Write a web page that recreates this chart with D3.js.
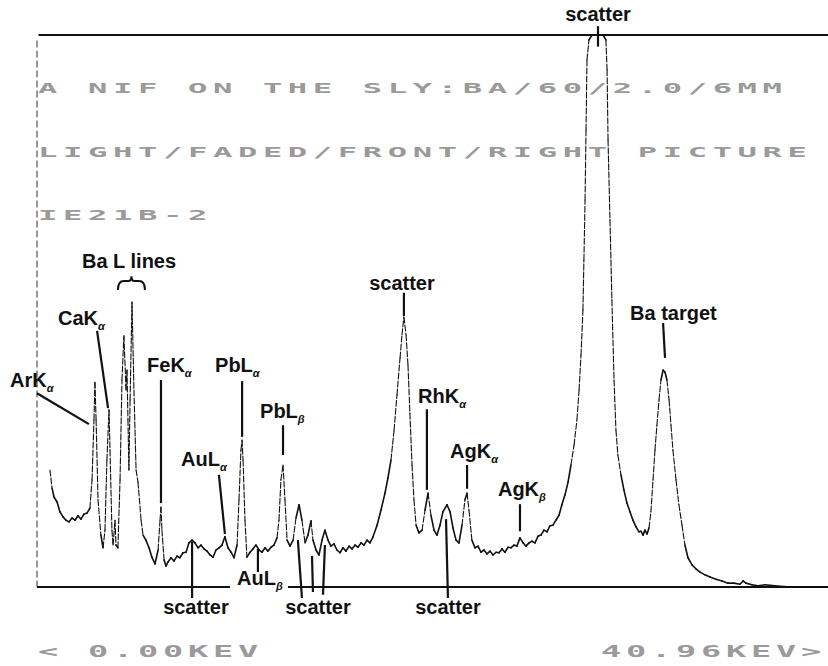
<!DOCTYPE html>
<html>
<head>
<meta charset="utf-8">
<style>
  body { margin: 0; background: #fff; }
  .note { font-family: "Liberation Sans", Arial, sans-serif; font-weight: bold; font-size: 20px; fill: #111; }
  .sub { font-style: italic; font-size: 11px; }
  .dots { font-family: "DejaVu Sans Mono", monospace; font-weight: bold; fill: #9a9a9a; }
</style>
</head>
<body>
<svg id="chart" width="828" height="666"></svg>
<script src="https://cdn.jsdelivr.net/npm/d3@7"></script>
<script>
// spectrum: energy in keV, counts in % of full scale
const energy = [0.67,0.78,0.88,1.04,1.19,1.35,1.50,1.66,1.81,1.97,2.12,2.28,2.43,2.59,2.74,2.85,2.95,3.00,3.06,3.16,
  3.31,3.42,3.52,3.62,3.73,3.78,3.88,3.94,4.04,4.09,4.19,4.30,4.40,4.50,4.61,4.66,4.71,4.76,4.82,4.92,
  5.02,5.13,5.23,5.39,5.49,5.64,5.80,5.95,6.11,6.27,6.37,6.42,6.47,6.58,6.68,6.78,6.94,7.09,7.25,7.40,
  7.56,7.72,7.87,8.03,8.18,8.34,8.49,8.65,8.80,8.96,9.11,9.27,9.42,9.58,9.73,9.89,10.05,10.20,10.36,10.46,
  10.56,10.62,10.67,10.77,10.87,11.03,11.18,11.34,11.50,11.65,11.81,11.96,12.12,12.27,12.43,12.53,12.63,12.74,12.84,12.95,
  13.10,13.26,13.41,13.57,13.72,13.88,14.03,14.19,14.29,14.45,14.60,14.76,14.91,15.07,15.22,15.38,15.53,15.69,15.84,16.00,
  16.16,16.31,16.47,16.62,16.78,16.93,17.09,17.24,17.40,17.61,17.81,18.02,18.17,18.33,18.49,18.64,18.80,18.90,19.00,19.11,
  19.21,19.31,19.42,19.52,19.63,19.78,19.94,20.09,20.25,20.40,20.56,20.71,20.87,21.02,21.23,21.39,21.54,21.70,21.85,22.01,
  22.16,22.27,22.37,22.52,22.68,22.84,22.99,23.15,23.30,23.46,23.61,23.77,23.92,24.08,24.23,24.39,24.54,24.70,24.85,25.01,
  25.17,25.32,25.48,25.63,25.79,25.94,26.10,26.25,26.41,26.56,26.72,26.87,27.03,27.18,27.34,27.50,27.65,27.81,27.96,28.07,
  28.17,28.27,28.32,28.38,28.43,28.48,28.58,28.74,29.31,29.46,29.52,29.57,29.67,29.77,29.88,29.98,30.08,30.24,30.39,30.55,
  30.71,30.86,31.02,31.17,31.28,31.38,31.48,31.59,31.69,31.79,31.90,32.00,32.10,32.21,32.31,32.42,32.52,32.62,32.73,32.83,
  32.93,33.09,33.24,33.40,33.55,33.71,33.92,34.12,34.33,34.59,34.85,35.16,35.47,35.78,36.09,36.40,36.56,36.71,37.02,37.33,
  37.70,38.21,38.99,40.03,40.96];
const counts = [21.2,17.9,16.3,15.4,13.6,12.7,12.1,11.8,12.5,12.1,12.9,12.3,13.2,13.4,14.3,19.4,30.3,37.1,30.3,15.8,
  9.4,7.1,10.3,23.0,32.1,24.8,10.3,7.6,12.1,7.6,7.1,19.4,37.5,45.5,35.7,39.3,30.3,21.2,33.9,51.6,
  35.7,21.2,19.0,12.1,9.4,8.5,7.1,5.4,4.2,6.7,12.1,14.5,10.3,4.9,3.8,4.5,5.3,4.7,5.6,5.3,
  6.2,6.3,8.0,8.5,8.0,7.1,7.6,6.9,6.5,5.8,5.4,6.7,7.1,7.6,9.1,7.1,6.3,5.3,7.6,15.8,
  24.8,26.6,23.0,12.1,5.4,6.3,6.9,7.6,6.7,6.3,7.1,6.5,7.2,7.6,8.9,12.1,19.4,22.1,15.8,8.5,
  7.4,8.5,12.5,14.9,12.1,8.0,9.4,12.0,8.5,6.7,5.8,8.5,10.3,8.5,7.4,7.8,6.7,6.2,7.1,6.5,
  7.4,6.9,7.6,7.2,8.0,7.6,8.5,8.0,9.1,11.2,13.9,17.0,19.7,23.0,28.4,34.8,41.5,45.7,48.9,45.7,
  40.2,31.5,22.1,15.8,11.2,9.8,10.3,13.9,17.0,13.0,10.3,9.4,11.2,13.6,14.9,13.6,10.7,8.5,8.0,11.2,
  15.8,17.0,13.9,8.5,7.1,7.4,6.3,6.7,6.0,6.5,5.8,6.3,6.2,6.9,6.3,7.2,7.1,7.6,7.4,8.9,
  8.0,7.4,8.0,8.3,8.0,9.2,9.4,10.3,10.0,11.1,11.2,12.1,13.0,14.9,16.7,19.0,22.1,25.7,30.3,35.7,
  42.0,50.2,59.2,70.1,82.8,95.5,99.1,100,100,99.1,93.7,81.0,66.5,52.0,37.5,28.4,23.9,20.3,17.6,15.2,
  13.6,12.1,10.9,10.0,10.1,9.4,10.3,9.6,10.7,13.6,19.4,24.8,29.3,33.9,37.5,39.3,38.9,37.5,33.9,29.3,
  24.8,19.4,14.9,11.2,7.6,5.3,4.0,3.3,2.7,2.2,1.8,1.4,1.1,0.7,0.7,0.5,1.1,0.7,0.4,0.2,
  0.4,0.2,0,0,0];

const headerLines = ["A NIF ON THE SLY:BA/60/2.0/6MM", "LIGHT/FADED/FRONT/RIGHT PICTURE", "IE21B-2"];
const rangeLabels = ["< 0.00KEV", "40.96KEV>"];

// peak labels: text, subscript, label point and leader lines, all in keV / counts
const notes = [
  {t: "scatter", mid: true, at: [29.05, 102.5], lines: [[[29.05, 101.6], [29.05, 97.9]]]},
  {t: "Ba L lines", at: [2.33, 57.8], lines: []},
  {t: "CaK", s: "α", at: [1.09, 47.5], lines: [[[3.11, 46.4], [3.68, 32.4]]]},
  {t: "ArK", s: "α", at: [-1.40, 36.2], lines: [[[0, 35.1], [2.69, 29.5]]]},
  {t: "FeK", s: "α", at: [5.70, 38.9], lines: [[[6.42, 37.5], [6.42, 15.2]]]},
  {t: "PbL", s: "α", at: [9.22, 38.9], lines: [[[10.62, 37.3], [10.62, 27.2]]]},
  {t: "PbL", s: "β", at: [11.55, 30.6], lines: [[[12.74, 29.3], [12.74, 23.9]]]},
  {t: "AuL", s: "α", at: [7.46, 21.9], lines: [[[9.42, 20.3], [9.73, 9.6]]]},
  {t: "AuL", s: "β", at: [10.36, 0.4], lines: [[[11.44, 6.9], [11.44, 2.7]]]},
  {t: "scatter", mid: true, at: [8.23, -4.9], lines: [[[8.03, 8.2], [8.03, -2.0]]]},
  {t: "scatter", mid: true, at: [14.55, -4.9], lines: [[[13.51, 8.5], [13.72, -2.0]], [[14.24, 5.6], [14.29, -0.9]], [[14.91, 7.6], [14.81, -1.4]]]},
  {t: "scatter", mid: true, at: [18.90, 53.8], lines: [[[19.00, 53.3], [19.00, 49.1]]]},
  {t: "RhK", s: "α", at: [19.73, 33.3], lines: [[[20.19, 32.2], [20.19, 17.6]]]},
  {t: "AgK", s: "α", at: [21.39, 23.4], lines: [[[22.27, 22.1], [22.27, 17.8]]]},
  {t: "AgK", s: "β", at: [23.87, 16.5], lines: [[[25.01, 15.0], [25.01, 10.1]]]},
  {t: "scatter", mid: true, at: [21.28, -4.9], lines: [[[21.18, 12.3], [21.28, -2.0]]]},
  {t: "Ba target", at: [30.71, 48.4], lines: [[[32.42, 47.8], [32.52, 41.5]]]}
];
const braceKeV = [4.19, 5.59];
const braceCounts = [53.8, 56.3];
const baselineGap = [9.99, 13.0];

const svg = d3.select("#chart");
const x = d3.scaleLinear().domain([0, 40.96]).range([37, 828]);
const y = d3.scaleLinear().domain([0, 100]).range([587, 35]);

// frame
svg.append("line")
  .attr("x1", x(0.08)).attr("x2", x(40.96)).attr("y1", y(100)).attr("y2", y(100))
  .attr("stroke", "#111").attr("stroke-width", 2);
svg.append("line")
  .attr("x1", x(0)).attr("x2", x(0)).attr("y1", y(99)).attr("y2", y(0))
  .attr("stroke", "#333").attr("stroke-width", 1).attr("stroke-dasharray", "7,3");
[[0, baselineGap[0]], [baselineGap[1], 40.96]].forEach(seg => {
  svg.append("line")
    .attr("x1", x(seg[0])).attr("x2", x(seg[1])).attr("y1", y(0)).attr("y2", y(0))
    .attr("stroke", "#111").attr("stroke-width", 1.8);
});

// spectrum: flat stretches solid, steep flanks broken like the scan
const pts = energy.map((e, i) => [e, counts[i]]);
const segs = d3.pairs(pts);
svg.append("g").selectAll("line")
  .data(segs)
  .join("line")
  .attr("x1", d => x(d[0][0])).attr("y1", d => y(d[0][1]))
  .attr("x2", d => x(d[1][0])).attr("y2", d => y(d[1][1]))
  .attr("stroke", "#111")
  .attr("stroke-linecap", "round")
  .each(function(d) {
    const dx = Math.abs(x(d[1][0]) - x(d[0][0]));
    const dy = Math.abs(y(d[1][1]) - y(d[0][1]));
    const steep = dy > 6 * Math.max(dx, 0.5);
    d3.select(this)
      .attr("stroke-width", steep ? 1.1 : 1.6)
      .attr("stroke-dasharray", steep ? "6,2" : null);
  });

// dot-matrix style screen text
function screenText(str, px, py, size, sx) {
  const adv = size * 0.6021;
  svg.append("text")
    .attr("class", "dots")
    .attr("transform", `translate(${px},${py}) scale(${sx},1)`)
    .attr("font-size", size)
    .attr("letter-spacing", 25 / sx - adv)
    .text(str);
}
headerLines.forEach((s, i) => screenText(s, x(0) + 1, 93 + i * 63.5, 14, 2.3));
screenText(rangeLabels[0], x(0) + 1, 657, 16, 2.1);
screenText(rangeLabels[1], x(40.96) - 227, 657, 16, 2.1);

// leaders
notes.forEach(n => n.lines.forEach(l => {
  svg.append("line")
    .attr("x1", x(l[0][0])).attr("y1", y(l[0][1]))
    .attr("x2", x(l[1][0])).attr("y2", y(l[1][1]))
    .attr("stroke", "#111").attr("stroke-width", 2.2);
}));

// labels
notes.forEach(n => {
  const t = svg.append("text")
    .attr("class", "note")
    .attr("x", x(n.at[0])).attr("y", y(n.at[1]))
    .attr("text-anchor", n.mid ? "middle" : "start");
  t.append("tspan").text(n.t);
  if (n.s) t.append("tspan").attr("class", "sub").attr("dy", 5).text(n.s);
});

// brace over Ba L lines
const bx0 = x(braceKeV[0]), bx1 = x(braceKeV[1]), bm = (bx0 + bx1) / 2;
const yb = y(braceCounts[0]), yt = y(braceCounts[1]), ym = yb - (yb - yt) * 0.65;
svg.append("path")
  .attr("d", `M${bx0},${yb} Q${bx0},${ym} ${bx0 + 6},${ym} L${bm - 3},${ym} Q${bm},${ym} ${bm},${yt}` +
             ` Q${bm},${ym} ${bm + 3},${ym} L${bx1 - 6},${ym} Q${bx1},${ym} ${bx1},${yb}`)
  .attr("fill", "none").attr("stroke", "#111").attr("stroke-width", 2);
</script>
</body>
</html>
